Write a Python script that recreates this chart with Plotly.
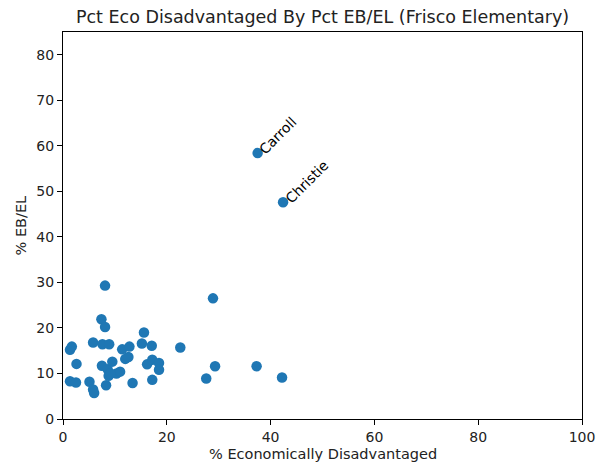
import plotly.graph_objects as go

# Campus-level percentages (Frisco ISD elementary schools)
pct_eco_dis = [
    1.35, 1.7, 1.35, 2.5, 2.6, 5.1, 5.8, 5.8, 6.0, 7.4,
    8.1, 8.1, 7.6, 8.9, 7.5, 8.3, 8.6, 8.8, 9.5, 10.3,
    11.0, 11.4, 12.0, 12.8, 13.4, 15.2, 15.6, 16.2, 17.1, 17.2,
    17.2, 18.5, 18.5, 22.6, 27.6, 28.9, 29.3, 37.3, 42.2, 9.1,
    12.6, 37.5, 42.4,
]
pct_eb_el = [
    15.2, 15.9, 8.3, 8.0, 12.1, 8.2, 16.8, 6.5, 5.7, 21.9,
    20.2, 29.3, 16.4, 16.4, 11.7, 7.4, 10.9, 9.5, 12.6, 10.0,
    10.4, 15.3, 13.2, 15.9, 7.9, 16.6, 19.0, 12.0, 16.1, 13.0,
    8.6, 12.3, 10.8, 15.7, 8.9, 26.5, 11.6, 11.6, 9.1, 10.0,
    13.6, 58.4, 47.6,
]
school_names = [""] * 41 + ["Carroll", "Christie"]

FONT = "DejaVu Sans"

fig = go.Figure()
fig.add_trace(go.Scatter(
    x=pct_eco_dis, y=pct_eb_el, mode="markers",
    marker=dict(color="#1f77b4", size=10.5, line=dict(width=0)),
    hoverinfo="skip", showlegend=False,
))

# Label the outlier campuses with rotated names
for xv, yv, name in zip(pct_eco_dis, pct_eb_el, school_names):
    if name:
        fig.add_annotation(
            x=xv, y=yv, text=name, showarrow=False, textangle=-45,
            xanchor="left", yanchor="bottom", xshift=-4, yshift=-7,
            font=dict(family=FONT, size=14, color="black"),
        )

# Axis titles placed as paper-anchored text
fig.add_annotation(
    x=0.5, y=0, xref="paper", yref="paper", text="% Economically Disadvantaged",
    showarrow=False, xanchor="center", yanchor="middle", yshift=-35,
    font=dict(family=FONT, size=14.5, color="#222"),
)
fig.add_annotation(
    x=0, y=0.5, xref="paper", yref="paper", text="% EB/EL", textangle=-90,
    showarrow=False, xanchor="center", yanchor="middle", xshift=-43,
    font=dict(family=FONT, size=14.5, color="#222"),
)

axis_common = dict(
    showline=True, linecolor="black", linewidth=1, mirror=True,
    ticks="outside", ticklen=5, tickcolor="black", showgrid=False,
    zeroline=False, automargin=False,
    tickfont=dict(family=FONT, size=14, color="#222"),
)

fig.update_layout(
    width=607, height=468,
    margin=dict(l=63, r=25, t=32, b=49),
    paper_bgcolor="white", plot_bgcolor="white",
    title=dict(
        text="Pct Eco Disadvantaged By Pct EB/EL (Frisco Elementary)",
        x=0.5, xanchor="center", xref="paper", y=0.965, yanchor="middle",
        font=dict(family=FONT, size=17.5, color="#222"),
    ),
    xaxis=dict(range=[0, 100], dtick=20, **axis_common),
    yaxis=dict(range=[0, 85], dtick=10, **axis_common),
)

fig.write_html("out.html")
